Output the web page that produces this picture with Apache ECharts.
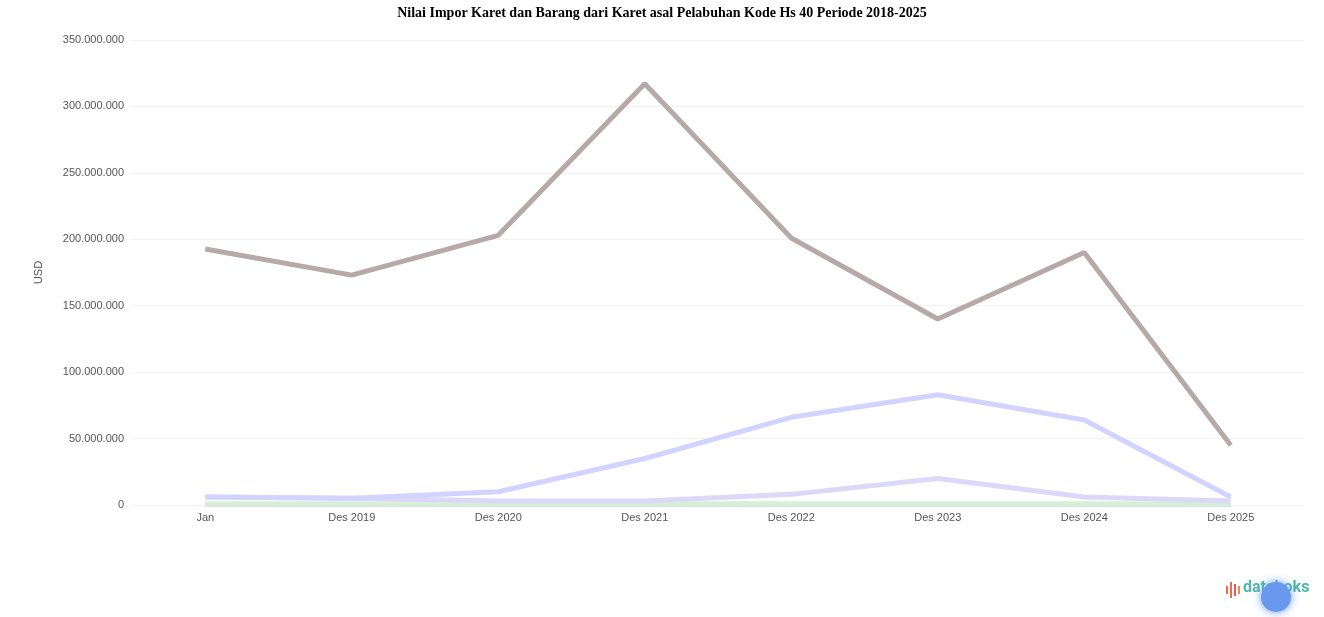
<!DOCTYPE html>
<html>
<head>
<meta charset="utf-8">
<script src="https://cdn.jsdelivr.net/npm/echarts@6/dist/echarts.min.js"></script>
<style>html,body{margin:0;padding:0;background:#fff}#c{width:1324px;height:617px}</style>
</head>
<body>
<div id="c"></div>
<script>
var categories = ['Jan', 'Des 2019', 'Des 2020', 'Des 2021', 'Des 2022', 'Des 2023', 'Des 2024', 'Des 2025'];
var seriesMain = [192700000, 173000000, 203000000, 317000000, 201000000, 140000000, 190000000, 45000000];
var seriesUpper = [6000000, 5000000, 10000000, 35000000, 66000000, 83000000, 64000000, 6000000];
var seriesLower = [6000000, 5000000, 3000000, 3000000, 8000000, 20000000, 6000000, 3000000];
var seriesGreen = [1000000, 1000000, 1000000, 1000000, 1000000, 1000000, 1000000, 1000000];
var seriesTeal = [300000, 300000, 300000, 300000, 300000, 300000, 300000, 300000];
var yTicks = [0, 50000000, 100000000, 150000000, 200000000, 250000000, 300000000, 350000000];

function fmt(v) {
  return String(v).replace(/\B(?=(\d{3})+(?!\d))/g, '.');
}

var chart = echarts.init(document.getElementById('c'));
function line(data, color, z) {
  return {
    type: 'line', data: data, symbol: 'none', z: z,
    lineStyle: { color: color, width: 5 }, itemStyle: { color: color }
  };
}
chart.setOption({
  animation: false,
  title: {
    text: 'Nilai Impor Karet dan Barang dari Karet asal Pelabuhan Kode Hs 40 Periode 2018-2025',
    left: 'center', top: 1,
    textStyle: { fontFamily: 'Liberation Serif', fontWeight: 'bold', fontSize: 14, color: '#000' }
  },
  grid: { left: 132, right: 20, top: 40, bottom: 112 },
  xAxis: {
    type: 'category', data: categories, boundaryGap: true,
    axisLine: { show: false }, axisTick: { show: false },
    axisLabel: { color: '#555', fontSize: 11, margin: 7 }
  },
  yAxis: {
    type: 'value', min: yTicks[0], max: yTicks[yTicks.length - 1], interval: 50000000,
    name: 'USD', nameLocation: 'middle', nameGap: 88, nameRotate: 90,
    nameTextStyle: { color: '#555', fontSize: 11 },
    axisLine: { show: false }, axisTick: { show: false },
    axisLabel: { color: '#555', fontSize: 11, formatter: fmt },
    splitLine: { lineStyle: { color: '#f2f2f2' } }
  },
  series: [
    line(seriesTeal, '#cfe3e6', 2),
    line(seriesGreen, '#d6efd6', 3),
    line(seriesLower, '#dcd8fa', 4),
    line(seriesUpper, '#d2d4ff', 5),
    line(seriesMain, '#b8a9a9', 6)
  ],
  graphic: [
    { type: 'rect', shape: { x: 1226, y: 586, width: 2, height: 8 }, style: { fill: '#f06a4a' } },
    { type: 'rect', shape: { x: 1230, y: 582, width: 2, height: 16 }, style: { fill: '#f06a4a' } },
    { type: 'rect', shape: { x: 1234, y: 584, width: 2, height: 12 }, style: { fill: '#e85a5a' } },
    { type: 'rect', shape: { x: 1238, y: 586, width: 2, height: 8 }, style: { fill: '#f08a4a' } },
    { type: 'text', left: 1243, top: 580, style: { text: 'databoks', fill: '#4db6ac', font: 'bold 16px Roboto' } },
    { type: 'circle', shape: { cx: 1276, cy: 597, r: 15 }, style: { fill: '#6a98ee', shadowBlur: 10, shadowColor: '#6a98ee' } }
  ]
});
</script>
</body>
</html>
